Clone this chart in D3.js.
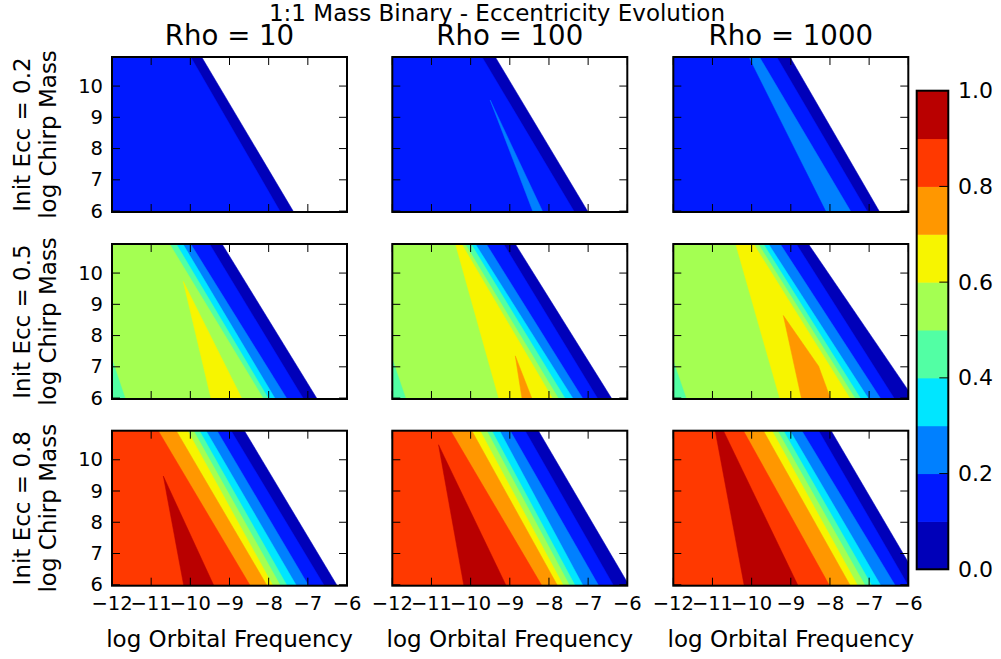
<!DOCTYPE html>
<html>
<head>
<meta charset="utf-8">
<script src="https://cdn.jsdelivr.net/npm/d3@7"></script>
<style>
  html, body { margin: 0; padding: 0; background: #fff; }
  svg { display: block; font-family: "DejaVu Sans", sans-serif; }
</style>
</head>
<body>
<script>
// ---------------- data ----------------
const rhoValues = [10, 100, 1000];
const initEccValues = [0.2, 0.5, 0.8];
const levelEdges = [0, 0.1, 0.2, 0.3, 0.4, 0.5, 0.6, 0.7, 0.8, 0.9, 1.0];
const levelColors = ["#0000b9", "#0019ff", "#0080ff", "#00e6ff", "#52ffa4",
                     "#a4ff52", "#f7f500", "#ff9700", "#ff3900", "#b90000"];
const xTicks = [-12, -11, -10, -9, -8, -7, -6];
const yTicks = [6, 7, 8, 9, 10];
const cbTicks = [0.0, 0.2, 0.4, 0.6, 0.8, 1.0];
const xDomain = [-12, -6];
const yDomain = [5.97, 10.93];

// Contour bands: [level index, x at top edge, x at bottom edge]; each band fills
// everything left of its boundary (drawn from the widest band inward).
const strips_e02_r10   = [[0, -9.71, -7.36], [1, -9.99, -7.70]];
const strips_e02_r100  = [[0, -9.37, -7.00], [1, -9.71, -7.35]];
const strips_e02_r1000 = [[0, -9.02, -6.73], [1, -9.36, -7.04], [2, -9.80, -7.46], [1, -10.08, -8.10]];
const strips_e05_r10   = [[0, -9.19, -6.76], [1, -9.51, -7.11], [2, -9.99, -7.53], [3, -10.19, -7.83],
                          [4, -10.36, -8.00], [5, -10.53, -8.13]];
const strips_e05_r100  = [[0, -8.86, -6.39], [1, -9.16, -6.75], [2, -9.60, -7.13], [3, -9.88, -7.38],
                          [4, -9.99, -7.58], [5, -10.14, -7.75], [6, -10.23, -7.90], [5, -10.40, -9.29]];
const strips_e05_r1000 = [[0, -8.55, -5.85], [1, -8.86, -6.35], [2, -9.27, -6.70], [3, -9.57, -7.01],
                          [4, -9.70, -7.21], [5, -9.83, -7.35], [6, -9.95, -7.48], [5, -10.42, -9.29]];
const strips_e08_r10   = [[0, -8.62, -6.25], [1, -8.96, -6.58], [2, -9.32, -6.98], [3, -9.60, -7.29],
                          [4, -9.77, -7.53], [5, -9.92, -7.70], [6, -10.07, -7.89], [7, -10.36, -8.04],
                          [8, -10.82, -8.47]];
const strips_e08_r100  = [[0, -8.27, -5.95], [1, -8.61, -6.35], [2, -8.99, -6.73], [3, -9.26, -7.13],
                          [4, -9.46, -7.33], [5, -9.59, -7.47], [6, -9.76, -7.63], [7, -9.97, -7.78],
                          [8, -10.51, -8.18]];
const strips_e08_r1000 = [[0, -7.97, -5.65], [1, -8.29, -6.00], [2, -8.72, -6.33], [3, -9.02, -6.70],
                          [4, -9.19, -6.93], [5, -9.34, -7.10], [6, -9.48, -7.29], [7, -9.70, -7.48],
                          [8, -10.21, -8.01]];

// Enclosed contour regions: [level index, [[x, y], ...]]
const wedges_e02_r10   = [];
const wedges_e02_r100  = [[2, [[-9.50, 9.55], [-7.78, 5.97], [-8.10, 5.97]]]];
const wedges_e02_r1000 = [];
const wedges_e05_r10   = [[6, [[-10.18, 9.73], [-8.28, 5.97], [-9.28, 5.97]]],
                          [4, [[-12, 7.24], [-11.39, 5.97], [-12, 5.97]]]];
const wedges_e05_r100  = [[7, [[-8.86, 7.35], [-8.12, 5.97], [-8.56, 5.97]]],
                          [4, [[-12, 7.24], [-11.38, 5.97], [-12, 5.97]]]];
const wedges_e05_r1000 = [[7, [[-9.19, 8.64], [-8.29, 7.02], [-7.69, 5.97], [-8.55, 5.97]]],
                          [4, [[-12, 7.18], [-11.39, 5.97], [-12, 5.97]]]];
const wedges_e08_r10   = [[9, [[-10.69, 9.48], [-9.03, 5.97], [-10.02, 5.97]]]];
const wedges_e08_r100  = [[9, [[-10.82, 10.48], [-8.71, 5.97], [-10.03, 5.97]]]];
const wedges_e08_r1000 = [[9, [[-10.93, 10.93], [-10.72, 10.93], [-8.43, 5.97], [-10.04, 5.97]]]];

const panelStrips = [
  [strips_e02_r10, strips_e02_r100, strips_e02_r1000],
  [strips_e05_r10, strips_e05_r100, strips_e05_r1000],
  [strips_e08_r10, strips_e08_r100, strips_e08_r1000]
];
const panelWedges = [
  [wedges_e02_r10, wedges_e02_r100, wedges_e02_r1000],
  [wedges_e05_r10, wedges_e05_r100, wedges_e05_r1000],
  [wedges_e08_r10, wedges_e08_r100, wedges_e08_r1000]
];

// ---------------- layout ----------------
const W = 1001, H = 659;
const colLeft = [112, 392.3, 673.3];
const rowTop = [57, 244, 430.7];
const pw = 235, ph = 155;
const tickFont = 19.5, labelFont = 23, titleFont = 27.6, supFont = 23, cbFont = 22;
const minus = s => String(s).replace("-", "\u2212");

const svg = d3.select("body").append("svg").attr("width", W).attr("height", H);
svg.append("rect").attr("width", W).attr("height", H).attr("fill", "#fff");

svg.append("text")
  .attr("x", 497).attr("y", 21)
  .attr("text-anchor", "middle")
  .attr("font-size", supFont)
  .text("1:1 Mass Binary - Eccentricity Evolution");

const defs = svg.append("defs");

for (let r = 0; r < 3; r++) {
  for (let c = 0; c < 3; c++) {
    const x0 = colLeft[c], y0 = rowTop[r];
    const x = d3.scaleLinear().domain(xDomain).range([x0, x0 + pw]);
    const y = d3.scaleLinear().domain(yDomain).range([y0 + ph, y0]);
    const clipId = `clip-${r}-${c}`;
    defs.append("clipPath").attr("id", clipId)
      .append("rect").attr("x", x0).attr("y", y0).attr("width", pw).attr("height", ph);

    const g = svg.append("g").attr("clip-path", `url(#${clipId})`);
    const line = d3.line().x(d => x(d[0])).y(d => y(d[1]));
    const [ylo, yhi] = yDomain;

    // bands left of each boundary
    g.selectAll("path.strip").data(panelStrips[r][c]).join("path")
      .attr("class", "strip")
      .attr("d", d => line([[xDomain[0] - 1, yhi + 1], [d[1] + (d[1] - d[2]) / (yhi - ylo), yhi + 1],
                            [d[2] - (d[1] - d[2]) / (yhi - ylo), ylo - 1], [xDomain[0] - 1, ylo - 1]]) + "Z")
      .attr("fill", d => levelColors[d[0]])
      .attr("stroke", d => levelColors[d[0]])
      .attr("stroke-width", 0.5);

    // enclosed regions
    g.selectAll("path.wedge").data(panelWedges[r][c]).join("path")
      .attr("class", "wedge")
      .attr("d", d => {
        const pts = d[1].map(p => [p[0], p[1] <= ylo + 0.001 ? ylo - 1 : p[1]]);
        return line(pts) + "Z";
      })
      .attr("fill", d => levelColors[d[0]])
      .attr("stroke", d => levelColors[d[0]])
      .attr("stroke-width", 0.5);

    // ticks (inside, all four sides)
    const tk = svg.append("g").attr("stroke", "#000").attr("stroke-width", 1);
    xTicks.forEach(t => {
      tk.append("line").attr("x1", x(t)).attr("x2", x(t)).attr("y1", y0 + ph).attr("y2", y0 + ph - 8);
      tk.append("line").attr("x1", x(t)).attr("x2", x(t)).attr("y1", y0).attr("y2", y0 + 8);
    });
    yTicks.forEach(t => {
      tk.append("line").attr("x1", x0).attr("x2", x0 + 8).attr("y1", y(t)).attr("y2", y(t));
      tk.append("line").attr("x1", x0 + pw).attr("x2", x0 + pw - 8).attr("y1", y(t)).attr("y2", y(t));
    });

    // frame
    svg.append("rect").attr("x", x0).attr("y", y0).attr("width", pw).attr("height", ph)
      .attr("fill", "none").attr("stroke", "#000").attr("stroke-width", 2);

    // column titles
    if (r === 0) {
      svg.append("text").attr("x", x0 + pw / 2).attr("y", 45)
        .attr("text-anchor", "middle").attr("font-size", titleFont)
        .text(`Rho = ${rhoValues[c]}`);
    }
    // y tick labels and y label
    if (c === 0) {
      yTicks.forEach(t => {
        svg.append("text").attr("x", x0 - 9).attr("y", y(t))
          .attr("text-anchor", "end").attr("dominant-baseline", "central")
          .attr("font-size", tickFont).text(minus(t));
      });
      const cy = y0 + ph / 2;
      const yl = svg.append("text").attr("text-anchor", "middle").attr("font-size", labelFont)
        .attr("transform", `translate(0,${cy}) rotate(-90)`);
      yl.append("tspan").attr("x", 0).attr("y", 30).text(`Init Ecc = ${initEccValues[r]}`);
      yl.append("tspan").attr("x", 0).attr("y", 56).text("log Chirp Mass");
    }
    // x tick labels and x label
    if (r === 2) {
      xTicks.forEach(t => {
        svg.append("text").attr("x", x(t)).attr("y", y0 + ph + 24)
          .attr("text-anchor", "middle").attr("font-size", tickFont).text(minus(t));
      });
      svg.append("text").attr("x", x0 + pw / 2).attr("y", 647)
        .attr("text-anchor", "middle").attr("font-size", labelFont)
        .text("log Orbital Frequency");
    }
  }
}

// ---------------- colorbar ----------------
const cbX = 916.7, cbW = 31.6, cbTop = 90.7, cbBot = 569.3;
const cbScale = d3.scaleLinear().domain([0, 1]).range([cbBot, cbTop]);
const cb = svg.append("g");
cb.selectAll("rect.band").data(d3.range(levelColors.length)).join("rect")
  .attr("class", "band")
  .attr("x", cbX).attr("width", cbW)
  .attr("y", i => cbScale(levelEdges[i + 1]))
  .attr("height", i => cbScale(levelEdges[i]) - cbScale(levelEdges[i + 1]) + 0.5)
  .attr("fill", i => levelColors[i]);
cbTicks.forEach(t => {
  cb.append("line").attr("x1", cbX + cbW).attr("x2", cbX + cbW - 9)
    .attr("y1", cbScale(t)).attr("y2", cbScale(t)).attr("stroke", "#000").attr("stroke-width", 1);
  cb.append("text").attr("x", 958).attr("y", cbScale(t))
    .attr("dominant-baseline", "central").attr("font-size", cbFont)
    .text(t.toFixed(1));
});
cb.append("rect").attr("x", cbX).attr("y", cbTop).attr("width", cbW).attr("height", cbBot - cbTop)
  .attr("fill", "none").attr("stroke", "#000").attr("stroke-width", 2);
</script>
</body>
</html>
